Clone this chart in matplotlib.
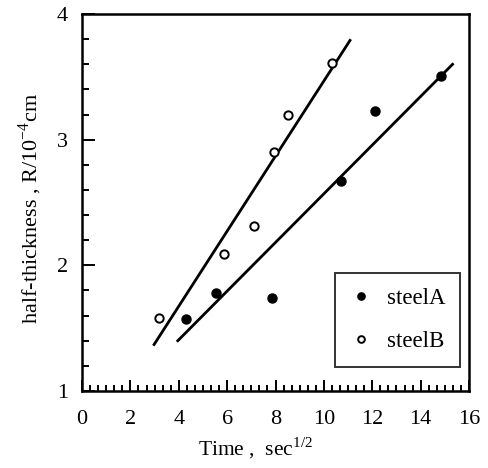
import numpy as np
import matplotlib
matplotlib.use('Agg')
import matplotlib.pyplot as plt
from matplotlib.ticker import MultipleLocator

plt.rcParams['font.family'] = ['Liberation Serif', 'DejaVu Serif']
plt.rcParams['mathtext.fontset'] = 'custom'
plt.rcParams['mathtext.rm'] = 'Liberation Serif'

# dữ liệu
a_x = [4.30, 5.54, 7.84, 10.69, 12.11, 14.85]
a_y = [1.57, 1.78, 1.74, 2.67, 3.23, 3.51]
b_x = [3.20, 5.87, 7.11, 7.95, 8.53, 10.33]
b_y = [1.58, 2.09, 2.31, 2.90, 3.20, 3.61]

# đường khớp (điểm đầu, điểm cuối)
fit_a_x = [3.96, 15.32]
fit_a_y = [1.40, 3.60]
fit_b_x = [2.98, 11.08]
fit_b_y = [1.37, 3.79]

fig = plt.figure(figsize=(4.89, 4.68), dpi=100)
ax = fig.add_axes([0.1677, 0.1645, 0.7914, 0.8055])

ax.plot(fit_b_x, fit_b_y, color='black', lw=2.0)
ax.plot(fit_a_x, fit_a_y, color='black', lw=2.0)
ax.plot(a_x, a_y, 'o', color='black', ms=6.5, label='steelA')
ax.plot(b_x, b_y, 'o', mfc='white', mec='black', mew=1.4, ms=6, label='steelB')

ax.set_xlim(0, 16)
ax.set_ylim(1, 4)
ax.xaxis.set_major_locator(MultipleLocator(2))
ax.xaxis.set_minor_locator(MultipleLocator(1 / 3))
ax.yaxis.set_major_locator(MultipleLocator(1))
ax.yaxis.set_minor_locator(MultipleLocator(0.2))
ax.tick_params(which='both', direction='in', top=False, right=False,
               labelsize=16, width=1.4)
ax.tick_params(axis='x', which='major', pad=14)
ax.tick_params(axis='y', which='major', pad=10)
ax.tick_params(axis='y', which='major', length=9)
ax.tick_params(axis='y', which='minor', length=5)
ax.tick_params(axis='x', which='major', length=8)
ax.tick_params(axis='x', which='minor', length=4)
for s in ax.spines.values():
    s.set_linewidth(1.8)

ax.set_xlabel('Time ,  sec$^{1/2}$', fontsize=15.5, labelpad=4, x=0.448)
ax.set_ylabel('half-thickness , R/10$^{-4}$cm', fontsize=16, labelpad=9.5, y=0.483)

leg = ax.legend(loc='lower right', bbox_to_anchor=(0.977, 0.063), fontsize=16.5,
                frameon=True, fancybox=False, edgecolor='black',
                handlelength=0.96, handletextpad=0.65, labelspacing=0.99,
                borderpad=0.65, markerscale=0.8, borderaxespad=0)
leg.get_frame().set_linewidth(1.4)

plt.savefig('out.png', dpi=100)
